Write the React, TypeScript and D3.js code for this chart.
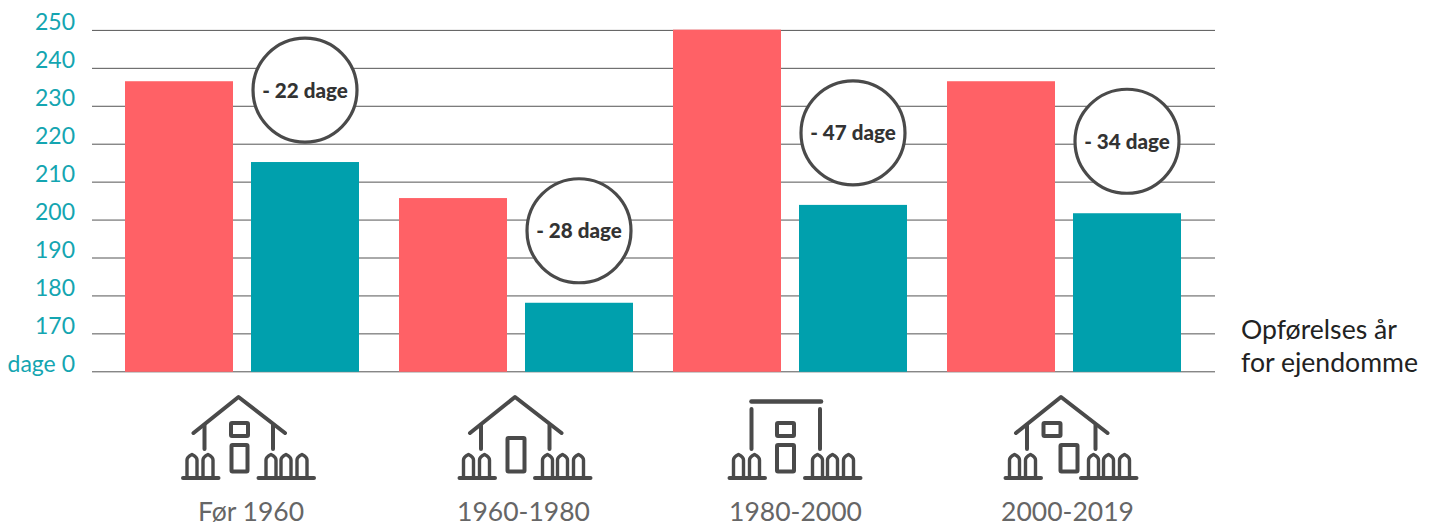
import React from "react";
import * as d3 from "d3";

const categories = ["Før 1960", "1960-1980", "1980-2000", "2000-2019"];
const seriesNames = ["before", "after"];
const beforeValues = [236.6, 205.8, 250.2, 236.6];
const afterValues = [215.3, 178.2, 204, 201.8];
const badges = ["- 22 dage", "- 28 dage", "- 47 dage", "- 34 dage"];
const tickValues = [160, 170, 180, 190, 200, 210, 220, 230, 240, 250];
const axisNote = ["Opførelses år", "for ejendomme"];
const houseKinds = ["stacked", "door", "flat", "offset"];

const W = 1435, H = 524;
const FONT = "Lato, sans-serif";
const RED = "#FF6166", TEAL = "#00A0AD", TICK = "#14A5B1", INK = "#4A4A4A";

const y = d3.scaleLinear().domain([160, 250]).range([371.8, 30.4]);
const x0 = d3.scaleBand<string>().domain(categories).range([125, 1181]).paddingInner(40 / 274).paddingOuter(0);
const x1 = d3.scaleBand<string>().domain(seriesNames).range([0, x0.bandwidth()]).paddingInner(18 / 126).paddingOuter(0);

const iconX = d3.scaleOrdinal<string, number>().domain(categories).range([182, 458.5, 728.5, 1004.5]);
const labelX = d3.scaleOrdinal<string, number>().domain(categories).range([251, 523.5, 795.5, 1067.5]);

const picket = (cx: number) => `M${cx - 5},477 V460 Q${cx - 5},457 ${cx},454.5 Q${cx + 5},457 ${cx + 5},460 V477`;

function House({ kind, ox }: { kind: string; ox: number }) {
  const s = { fill: "none", stroke: INK, strokeWidth: 4, strokeLinecap: "round" as const, strokeLinejoin: "round" as const };
  return (
    <g transform={`translate(${ox - 182},0)`} {...s}>
      {kind === "flat"
        ? <path d="M205,401.5 H274.5" strokeWidth={4.6} />
        : <path d="M193.5,433 L238.5,397 L285,433" />}
      <path d={kind === "flat" ? "M205,409 V449 M273.5,409 V449" : "M204.5,425 V449 M273,425 V449"} />
      {kind === "stacked" && <>
        <rect x={231} y={423} width={17} height={13} rx={1} />
        <rect x={231.5} y={445} width={16} height={26.5} rx={1} />
      </>}
      {kind === "door" && <rect x={231} y={438} width={17} height={33.5} rx={1} />}
      {kind === "flat" && <>
        <rect x={230.5} y={423} width={17} height={13} rx={1} />
        <rect x={230.5} y={445} width={17} height={26.5} rx={1} />
      </>}
      {kind === "offset" && <>
        <rect x={221} y={423} width={17} height={13} rx={1} />
        <rect x={238} y={445} width={17} height={26.5} rx={1} />
      </>}
      <path d="M183,478 H218.5 M258.5,478 H314" />
      {[192, 208, 271, 286, 302].map((c) => <path key={c} d={picket(c)} strokeWidth={3.4} />)}
    </g>
  );
}

export default function App() {
  const tickLabel = (t: number) => (t === 160 ? "dage 0" : String(t));
  return (
    <svg width={W} height={H} viewBox={`0 0 ${W} ${H}`} style={{ position: "absolute", left: 0, top: 0, display: "block" }} fontFamily={FONT}>
      <rect width={W} height={H} fill="#fff" />
      {tickValues.map((t) => (
        <g key={t}>
          <line x1={92} x2={1215} y1={y(t)} y2={y(t)} stroke="#555" strokeWidth={1} />
          <text x={75} y={y(t)} textAnchor="end" fontSize={23} fill={TICK}>{tickLabel(t)}</text>
        </g>
      ))}
      {categories.map((c, i) => {
        const gx = x0(c)!;
        const bx = gx + x1("before")!, ax = gx + x1("after")!, w = x1.bandwidth();
        const cx = ax + w / 2, cy = y(afterValues[i]) - 72;
        return (
          <g key={c}>
            <rect x={bx} y={y(beforeValues[i])} width={w} height={y(160) - y(beforeValues[i])} fill={RED} />
            <rect x={ax} y={y(afterValues[i])} width={w} height={y(160) - y(afterValues[i])} fill={TEAL} />
            <circle cx={cx} cy={cy} r={52} fill="#fff" stroke={INK} strokeWidth={3.2} />
            <text x={cx} y={cy + 7.6} textAnchor="middle" fontSize={20.6} fontWeight={900} fill="#333">{badges[i]}</text>
            <House kind={houseKinds[i]} ox={iconX(c)} />
            <text x={labelX(c)} y={521} textAnchor="middle" fontSize={26.5} fontWeight={400} fill="#666">{c}</text>
          </g>
        );
      })}
      {axisNote.map((t, i) => (
        <text key={t} x={1241} y={339 + i * 32.5} fontSize={26.6} fill="#222">{t}</text>
      ))}
    </svg>
  );
}
